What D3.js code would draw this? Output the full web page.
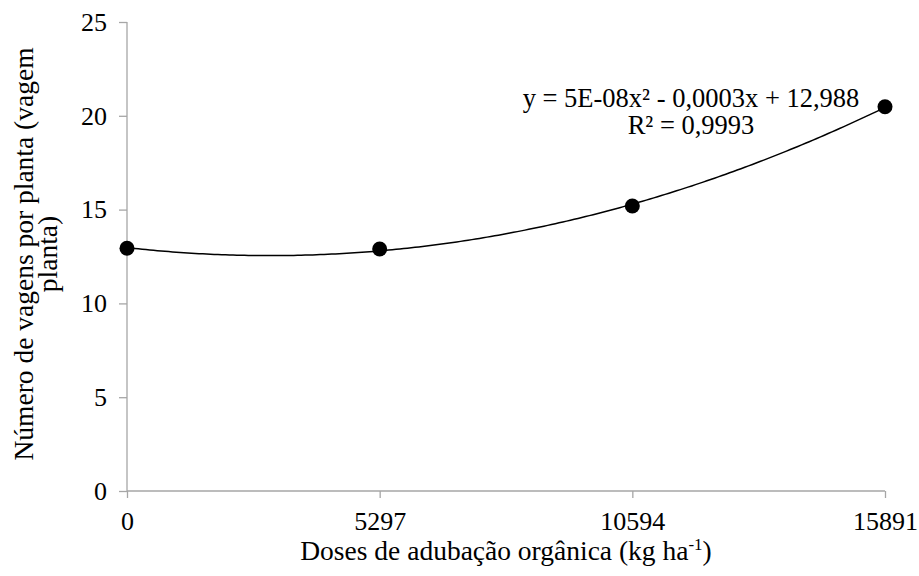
<!DOCTYPE html>
<html><head><meta charset="utf-8">
<script src="https://cdn.jsdelivr.net/npm/d3@7"></script>
</head><body style="margin:0;background:#fff"><svg id="c" width="919" height="576" style="display:block"></svg>
<script>
const doses = [0, 5297, 10594, 15891];
const vagens = [12.94, 12.9, 15.19, 20.48];
const yTicks = [0, 5, 10, 15, 20, 25];
const equationLines = ["y = 5E-08x² - 0,0003x + 12,988", "R² = 0,9993"];

const FONT = "'Liberation Serif', 'Times New Roman', Times, serif";
const svg = d3.select("#c");
const x = d3.scaleLinear().domain([0, 15891]).range([127, 885]);
const y = d3.scaleLinear().domain([0, 25]).range([491, 22]);
const axisColor = "#a6a6a6";

const ya = svg.append("g").attr("transform", "translate(127,0)")
  .call(d3.axisLeft(y).tickValues(yTicks).tickSize(8).tickPadding(12).tickFormat(d3.format("d")));
const xa = svg.append("g").attr("transform", "translate(0,491)")
  .call(d3.axisBottom(x).tickValues(doses).tickSize(7).tickPadding(14).tickFormat(d => String(d)));
[ya, xa].forEach(g => {
  g.attr("font-family", null).attr("font-size", null);
  g.select(".domain").attr("stroke", axisColor).attr("stroke-width", 1.3);
  g.selectAll(".tick line").attr("stroke", axisColor).attr("stroke-width", 1.3);
  g.selectAll(".tick text").style("font-size", "26px").style("font-family", FONT).attr("fill", "#000");
});
ya.select(".domain").attr("d", "M0,22V491");
xa.select(".domain").attr("d", "M127,0H885");

// least squares quadratic trendline through the data
function fitQuad(xs, ys) {
  let S = [0,0,0,0,0], T = [0,0,0];
  xs.forEach((xv, i) => {
    const t = xv / 10000;
    for (let k = 0; k < 5; k++) S[k] += Math.pow(t, k);
    for (let k = 0; k < 3; k++) T[k] += Math.pow(t, k) * ys[i];
  });
  const A = [[S[0],S[1],S[2],T[0]],[S[1],S[2],S[3],T[1]],[S[2],S[3],S[4],T[2]]];
  for (let i = 0; i < 3; i++) for (let j = i + 1; j < 3; j++) {
    const f = A[j][i] / A[i][i];
    for (let k = i; k < 4; k++) A[j][k] -= f * A[i][k];
  }
  const c = [0,0,0];
  for (let i = 2; i >= 0; i--) {
    let s = A[i][3];
    for (let k = i + 1; k < 3; k++) s -= A[i][k] * c[k];
    c[i] = s / A[i][i];
  }
  return xv => { const t = xv / 10000; return c[0] + c[1] * t + c[2] * t * t; };
}
const f = fitQuad(doses, vagens);
const samples = d3.range(0, 15891 + 1, 15891 / 200);
svg.append("path")
  .attr("d", d3.line().x(d => x(d)).y(d => y(f(d)))(samples))
  .attr("fill", "none").attr("stroke", "#000").attr("stroke-width", 1.5);

svg.selectAll("circle.pt").data(doses).enter().append("circle")
  .attr("class", "pt")
  .attr("cx", d => x(d)).attr("cy", (d, i) => y(vagens[i])).attr("r", 7.5).attr("fill", "#000");

svg.append("g").selectAll("text").data(equationLines).enter().append("text")
  .attr("x", 691).attr("y", (d, i) => 107 + i * 27)
  .attr("text-anchor", "middle").style("font-family", FONT).style("font-size", "26.5px").text(d => d);

const xt = svg.append("text").attr("x", 506).attr("y", 560).attr("text-anchor", "middle")
  .style("font-family", FONT).style("font-size", "27.5px");
xt.append("tspan").text("Doses de adubação orgânica (kg ha");
xt.append("tspan").attr("dy", -10).style("font-size", "17px").text("-1");
xt.append("tspan").attr("dy", 10).text(")");

const yt = svg.append("text").attr("transform", "translate(0,254) rotate(-90)").attr("text-anchor", "middle")
  .style("font-family", FONT).style("font-size", "27.5px");
yt.append("tspan").attr("x", 0).attr("y", 33).text("Número de vagens por planta (vagem");
yt.append("tspan").attr("x", 0).attr("y", 57).text("planta)");
</script></body></html>
